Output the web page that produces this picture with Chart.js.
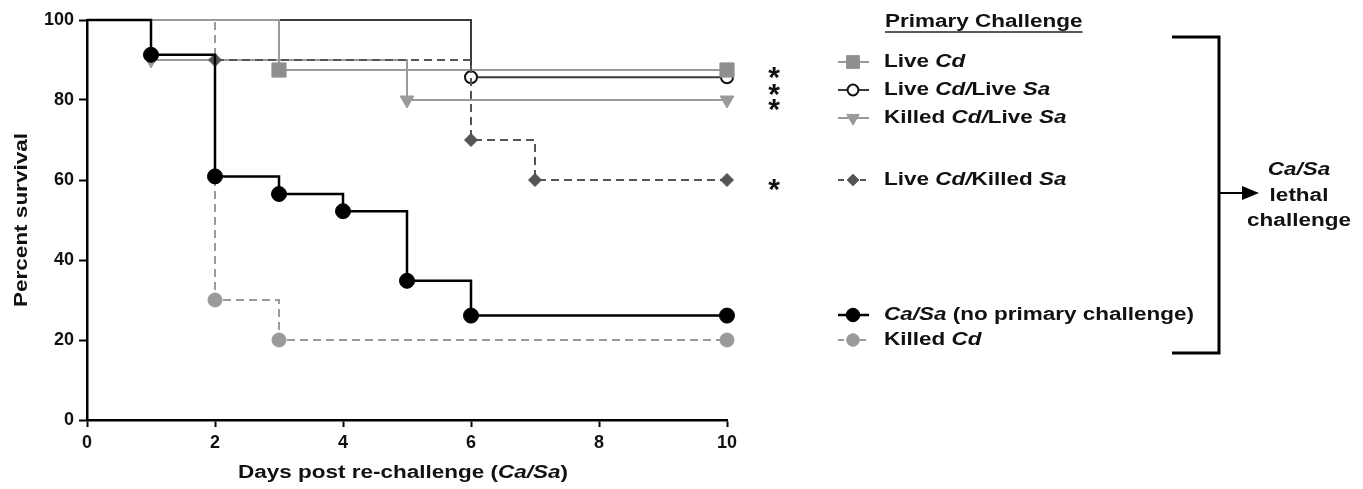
<!DOCTYPE html>
<html>
<head>
<meta charset="utf-8">
<title>Survival after Ca/Sa re-challenge</title>
<script src="https://cdn.jsdelivr.net/npm/chart.js@4.4.1/dist/chart.umd.min.js"></script>
<style>
  html, body { margin: 0; padding: 0; background: #fff; }
  #wrap { width: 1363px; height: 489px; }
</style>
</head>
<body>
<div id="wrap"><canvas id="survivalChart" width="1363" height="489"></canvas></div>
<script>
// step days and percent survival after each step (Kaplan-Meier)
var caSaDays = [0, 1, 2, 3, 4, 5, 6, 10];
var caSaSurvival = [100, 91.3, 60.9, 56.5, 52.2, 34.8, 26.1, 26.1];
var killedCdDays = [0, 2, 3, 10];
var killedCdSurvival = [100, 30, 20, 20];
var liveCdKilledSaDays = [0, 2, 6, 7, 10];
var liveCdKilledSaSurvival = [100, 90, 70, 60, 60];
var killedCdLiveSaDays = [0, 1, 5, 10];
var killedCdLiveSaSurvival = [100, 90, 80, 80];
var liveCdDays = [0, 3, 10];
var liveCdSurvival = [100, 87.5, 87.5];
var liveCdLiveSaDays = [0, 6, 10];
var liveCdLiveSaSurvival = [100, 85.7, 85.7];

var xTicks = [0, 2, 4, 6, 8, 10];
var yTicks = [0, 20, 40, 60, 80, 100];

// legend labels, [text, italic]
var caSaLabel = [['Ca/Sa', 1], [' (no primary challenge)', 0]];
var killedCdLabel = [['Killed ', 0], ['Cd', 1]];
var liveCdKilledSaLabel = [['Live ', 0], ['Cd/', 1], ['Killed ', 0], ['Sa', 1]];
var killedCdLiveSaLabel = [['Killed ', 0], ['Cd/', 1], ['Live ', 0], ['Sa', 1]];
var liveCdLabel = [['Live ', 0], ['Cd', 1]];
var liveCdLiveSaLabel = [['Live ', 0], ['Cd/', 1], ['Live ', 0], ['Sa', 1]];

var legendTitle = 'Primary Challenge';
var xTitle = [['Days post re-challenge (', 0], ['Ca/Sa', 1], [')', 0]];
var yTitle = [['Percent survival', 0]];
var bracketText = [[['Ca/Sa', 1]], [['lethal', 0]], [['challenge', 0]]];
var sigMarks = ['*', '*', '*', '*'];

var FONT = '"Liberation Sans", Arial, Helvetica, sans-serif';
var STRETCH = 1.25;

function points(days, vals) {
    return days.map(function(d, i) { return { x: d, y: vals[i] }; });
}

// first point of each curve is the start at 100%, no marker there
function markerSize(r) {
    return function(c) { return c.dataIndex === 0 ? 0 : r; };
}

function series(label, days, vals, s) {
    return {
        label: label.map(function(p) { return p[0]; }).join(''),
        richLabel: label,
        data: points(days, vals),
        stepped: 'before',
        borderColor: s.line,
        borderWidth: s.width,
        borderDash: s.dash || [],
        pointStyle: s.marker,
        pointRotation: s.rotation || 0,
        pointRadius: markerSize(s.radius),
        legendRadius: s.radius,
        pointBackgroundColor: s.fill,
        pointBorderColor: s.edge || s.fill,
        pointBorderWidth: s.edgeWidth || 1,
        clip: false,
        fill: false
    };
}

function setFont(ctx, italic, size) {
    ctx.font = (italic ? 'italic ' : '') + 'bold ' + size + 'px ' + FONT;
}

// mixed roman/italic text, slightly widened
function richText(ctx, parts, x, y, size, align, angle) {
    ctx.save();
    ctx.translate(x, y);
    if (angle) ctx.rotate(angle);
    ctx.scale(STRETCH, 1);
    ctx.textBaseline = 'middle';
    ctx.textAlign = 'left';
    var total = 0;
    var widths = parts.map(function(p) {
        setFont(ctx, p[1], size);
        var w = ctx.measureText(p[0]).width;
        total += w;
        return w;
    });
    var cx = align === 'center' ? -total / 2 : 0;
    parts.forEach(function(p, i) {
        setFont(ctx, p[1], size);
        ctx.fillText(p[0], cx, 0);
        cx += widths[i];
    });
    ctx.restore();
    return total * STRETCH;
}

var datasets = [
    series(caSaLabel, caSaDays, caSaSurvival,
        { line: '#000', width: 2.5, marker: 'circle', radius: 7.5, fill: '#000' }),
    series(killedCdLabel, killedCdDays, killedCdSurvival,
        { line: '#9a9a9a', width: 2, dash: [8, 5], marker: 'circle', radius: 7, fill: '#9a9a9a' }),
    series(liveCdKilledSaLabel, liveCdKilledSaDays, liveCdKilledSaSurvival,
        { line: '#555', width: 2, dash: [8, 5], marker: 'rectRot', radius: 6.5, fill: '#555' }),
    series(killedCdLiveSaLabel, killedCdLiveSaDays, killedCdLiveSaSurvival,
        { line: '#9a9a9a', width: 2, marker: 'triangle', rotation: 180, radius: 8, fill: '#9a9a9a' }),
    series(liveCdLabel, liveCdDays, liveCdSurvival,
        { line: '#9a9a9a', width: 2, marker: 'rect', radius: 10, fill: '#8e8e8e' }),
    series(liveCdLiveSaLabel, liveCdLiveSaDays, liveCdLiveSaSurvival,
        { line: '#3a3a3a', width: 2, marker: 'circle', radius: 6, fill: '#fff', edge: '#111', edgeWidth: 2 })
];

// legend row for each dataset, top to bottom
var legendRows = { 4: 62, 5: 90, 3: 118, 2: 180, 0: 315, 1: 340 };

var decorations = {
    id: 'decorations',
    afterDraw: function(chart) {
        var ctx = chart.ctx;
        var area = chart.chartArea;
        ctx.save();
        ctx.fillStyle = '#111';

        // axis titles
        richText(ctx, xTitle, (area.left + area.right) / 2 - 4, 473, 18, 'center');
        richText(ctx, yTitle, 22, 220, 18, 'center', -Math.PI / 2);

        // legend heading, underlined
        var w = richText(ctx, [[legendTitle, 0]], 885, 22, 18, 'left');
        ctx.strokeStyle = '#222';
        ctx.lineWidth = 1.5;
        ctx.beginPath();
        ctx.moveTo(885, 32);
        ctx.lineTo(885 + w, 32);
        ctx.stroke();

        // legend samples
        Object.keys(legendRows).forEach(function(k) {
            var ds = chart.data.datasets[k];
            var y = legendRows[k];
            ctx.save();
            ctx.strokeStyle = ds.borderColor;
            ctx.lineWidth = ds.borderWidth;
            ctx.setLineDash(ds.borderDash.length ? [6, 5] : []);
            ctx.beginPath();
            ctx.moveTo(838, y);
            ctx.lineTo(869, y);
            ctx.stroke();
            ctx.setLineDash([]);
            ctx.fillStyle = ds.pointBackgroundColor;
            ctx.strokeStyle = ds.pointBorderColor;
            ctx.lineWidth = ds.pointBorderWidth;
            Chart.helpers.drawPoint(ctx, {
                pointStyle: ds.pointStyle,
                rotation: ds.pointRotation,
                radius: ds.legendRadius * 0.9,
                borderWidth: ds.pointBorderWidth
            }, 853, y);
            ctx.restore();
            richText(ctx, ds.richLabel, 884, y, 18, 'left');
        });

        // significance marks
        var sigY = [70, 87, 102, 182];
        ctx.font = 'bold 30px ' + FONT;
        ctx.textAlign = 'center';
        ctx.textBaseline = 'alphabetic';
        sigMarks.forEach(function(m, i) {
            ctx.fillText(m, 774, sigY[i] + 17);
        });

        // bracket and arrow
        ctx.strokeStyle = '#000';
        ctx.fillStyle = '#000';
        ctx.lineWidth = 3;
        ctx.beginPath();
        ctx.moveTo(1172, 37);
        ctx.lineTo(1219, 37);
        ctx.lineTo(1219, 353);
        ctx.lineTo(1172, 353);
        ctx.stroke();
        ctx.lineWidth = 2;
        ctx.beginPath();
        ctx.moveTo(1219, 193);
        ctx.lineTo(1245, 193);
        ctx.stroke();
        ctx.beginPath();
        ctx.moveTo(1259, 193);
        ctx.lineTo(1242, 186);
        ctx.lineTo(1242, 200);
        ctx.closePath();
        ctx.fill();

        ctx.fillStyle = '#111';
        richText(ctx, bracketText[0], 1299, 170, 18, 'center');
        richText(ctx, bracketText[1], 1299, 196, 18, 'center');
        richText(ctx, bracketText[2], 1299, 221, 18, 'center');
        ctx.restore();
    }
};

var tickFont = { family: FONT, size: 18, weight: 'bold' };

new Chart(document.getElementById('survivalChart'), {
    type: 'line',
    data: { datasets: datasets },
    options: {
        responsive: false,
        animation: false,
        layout: { padding: { left: 0, top: 20, right: 636, bottom: 0 } },
        plugins: {
            legend: { display: false },
            tooltip: { enabled: false }
        },
        scales: {
            x: {
                type: 'linear',
                min: 0,
                max: 10,
                afterBuildTicks: function(scale) {
                    scale.ticks = xTicks.map(function(v) { return { value: v }; });
                },
                afterFit: function(scale) { scale.height = 69; },
                border: { color: '#000', width: 2.5 },
                grid: { drawOnChartArea: false, drawTicks: true, tickLength: 7, tickWidth: 2, tickColor: '#000' },
                ticks: { font: tickFont, color: '#111', padding: 5, maxRotation: 0 }
            },
            y: {
                min: 0,
                max: 100,
                afterBuildTicks: function(scale) {
                    scale.ticks = yTicks.map(function(v) { return { value: v }; });
                },
                afterFit: function(scale) { scale.width = 87; },
                border: { color: '#000', width: 2.5 },
                grid: { drawOnChartArea: false, drawTicks: true, tickLength: 8, tickWidth: 2, tickColor: '#000' },
                ticks: { font: tickFont, color: '#111', padding: 5 }
            }
        }
    },
    plugins: [decorations]
});
</script>
</body>
</html>
